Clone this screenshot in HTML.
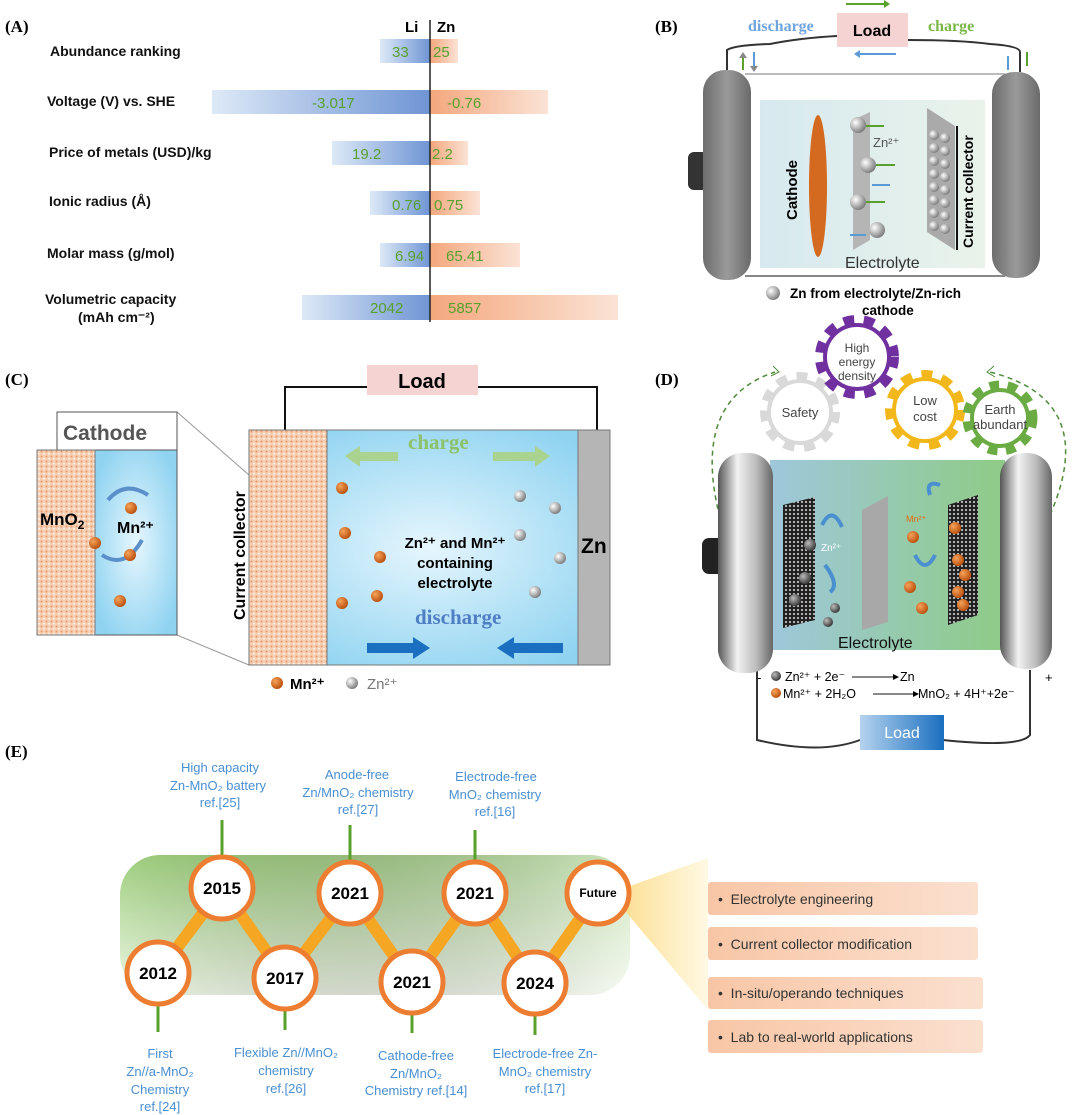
<!DOCTYPE html>
<html><head><meta charset="utf-8"><style>
html,body{margin:0;padding:0;background:#fff;}
svg{display:block;font-family:"Liberation Sans",sans-serif;}
</style></head><body>
<svg width="1080" height="1115" viewBox="0 0 1080 1115" xmlns="http://www.w3.org/2000/svg">
<defs>
<linearGradient id="li" x1="0" x2="1"><stop offset="0" stop-color="#dde9f7"/><stop offset="1" stop-color="#6f95d4"/></linearGradient>
<linearGradient id="zn" x1="0" x2="1"><stop offset="0" stop-color="#f4a77c"/><stop offset="1" stop-color="#fbe3d6"/></linearGradient>
<linearGradient id="cap" x1="0" x2="1"><stop offset="0" stop-color="#6d6d6d"/><stop offset="0.5" stop-color="#9a9a9a"/><stop offset="1" stop-color="#6a6a6a"/></linearGradient>
<linearGradient id="capD" x1="0" x2="1"><stop offset="0" stop-color="#555"/><stop offset="0.35" stop-color="#f2f2f2"/><stop offset="0.7" stop-color="#bbb"/><stop offset="1" stop-color="#666"/></linearGradient>
<linearGradient id="elB" x1="0" x2="1"><stop offset="0" stop-color="#d7e9ef"/><stop offset="1" stop-color="#e9f3ea"/></linearGradient>
<linearGradient id="elD" x1="0" x2="1"><stop offset="0" stop-color="#9ec8dc"/><stop offset="1" stop-color="#8fcb86"/></linearGradient>
<radialGradient id="elC" cx="0.5" cy="0.5" r="0.6"><stop offset="0" stop-color="#e6f6fd"/><stop offset="1" stop-color="#8fd3f1"/></radialGradient>
<linearGradient id="loadD" x1="0" x2="1"><stop offset="0" stop-color="#b5d3ee"/><stop offset="1" stop-color="#1a6fc0"/></linearGradient>
<radialGradient id="sph" cx="0.35" cy="0.35" r="0.7"><stop offset="0" stop-color="#fff"/><stop offset="1" stop-color="#777"/></radialGradient>
<radialGradient id="mn" cx="0.35" cy="0.35" r="0.7"><stop offset="0" stop-color="#f6a35a"/><stop offset="1" stop-color="#b84d0c"/></radialGradient>
<radialGradient id="dk" cx="0.35" cy="0.35" r="0.7"><stop offset="0" stop-color="#bbb"/><stop offset="1" stop-color="#333"/></radialGradient>
<pattern id="dots" width="5" height="5" patternUnits="userSpaceOnUse"><rect width="5" height="5" fill="#f6cfb3"/><circle cx="1.5" cy="1.5" r="1" fill="#e79a6c"/><circle cx="4" cy="3.8" r="0.8" fill="#fff"/></pattern>
<pattern id="mesh" width="4" height="4" patternUnits="userSpaceOnUse"><rect width="4" height="4" fill="#222"/><circle cx="2" cy="2" r="1" fill="#ddd"/></pattern>
<linearGradient id="grE" x1="0" x2="0" y1="0" y2="1"><stop offset="0" stop-color="#9fcf7f"/><stop offset="1" stop-color="#eef6e6"/></linearGradient>
<linearGradient id="grE2" x1="0" x2="1"><stop offset="0" stop-color="#000" stop-opacity="0"/><stop offset="1" stop-color="#fff" stop-opacity="0.5"/></linearGradient>
<linearGradient id="beam" x1="0" x2="1"><stop offset="0" stop-color="#fbd36a"/><stop offset="1" stop-color="#fff7dd"/></linearGradient>
<linearGradient id="box" x1="0" x2="1"><stop offset="0" stop-color="#f8c6a6"/><stop offset="1" stop-color="#fbe0cf"/></linearGradient>
</defs>

<!-- Panel A -->
<text x="5" y="32" font-family="Liberation Serif" font-weight="bold" font-size="17">(A)</text>
<g font-size="14" font-weight="bold" fill="#111">
<text x="50" y="56">Abundance ranking</text>
<text x="47" y="106">Voltage (V) vs. SHE</text>
<text x="49" y="157">Price of metals (USD)/kg</text>
<text x="49" y="206">Ionic radius (Å)</text>
<text x="47" y="258">Molar mass (g/mol)</text>
<text x="45" y="304">Volumetric capacity</text>
<text x="78" y="322">(mAh cm⁻²)</text>
</g>
<text x="405" y="32" font-size="15" font-weight="bold">Li</text>
<text x="437" y="32" font-size="15" font-weight="bold">Zn</text>
<rect x="380" y="39" width="50" height="24" fill="url(#li)"/><rect x="430" y="39" width="28" height="24" fill="url(#zn)"/>
<rect x="212" y="90" width="218" height="24" fill="url(#li)"/><rect x="430" y="90" width="118" height="24" fill="url(#zn)"/>
<rect x="332" y="141" width="98" height="24" fill="url(#li)"/><rect x="430" y="141" width="38" height="24" fill="url(#zn)"/>
<rect x="370" y="191" width="60" height="24" fill="url(#li)"/><rect x="430" y="191" width="50" height="24" fill="url(#zn)"/>
<rect x="380" y="243" width="50" height="24" fill="url(#li)"/><rect x="430" y="243" width="90" height="24" fill="url(#zn)"/>
<rect x="302" y="295" width="128" height="25" fill="url(#li)"/><rect x="430" y="295" width="188" height="25" fill="url(#zn)"/>
<line x1="430" y1="20" x2="430" y2="322" stroke="#222" stroke-width="1.5"/>
<g font-size="15" fill="#5aa02c">
<text x="392" y="57">33</text><text x="433" y="57">25</text>
<text x="312" y="108">-3.017</text><text x="447" y="108">-0.76</text>
<text x="352" y="159">19.2</text><text x="432" y="159">2.2</text>
<text x="392" y="210">0.76</text><text x="434" y="210">0.75</text>
<text x="395" y="261">6.94</text><text x="446" y="261">65.41</text>
<text x="370" y="313">2042</text><text x="448" y="313">5857</text>
</g>

<!-- Panel B -->
<text x="655" y="32" font-family="Liberation Serif" font-weight="bold" font-size="17">(B)</text>
<path d="M727 72 V50 Q735 45 770 44 Q800 38 837 36 M908 40 Q960 40 990 44 Q1020 46 1020 52 V72" fill="none" stroke="#333" stroke-width="2"/>
<rect x="837" y="13" width="71" height="34" fill="#f5d3d3"/>
<text x="872" y="36" text-anchor="middle" font-size="16" font-weight="bold">Load</text>
<text x="748" y="31" font-family="Liberation Serif" font-weight="bold" font-size="16" fill="#6fa4de">discharge</text>
<text x="928" y="31" font-family="Liberation Serif" font-weight="bold" font-size="16" fill="#7ab648">charge</text>
<line x1="846" y1="4" x2="884" y2="4" stroke="#5aa02c" stroke-width="2"/><path d="M884 0 L890 4 L884 8Z" fill="#5aa02c"/>
<line x1="860" y1="54" x2="896" y2="54" stroke="#5b9bd5" stroke-width="2"/><path d="M860 50 L854 54 L860 58Z" fill="#5b9bd5"/>
<g stroke-width="2"><line x1="743" y1="70" x2="743" y2="56" stroke="#5aa02c"/><line x1="754" y1="52" x2="754" y2="68" stroke="#5b9bd5"/><line x1="1008" y1="70" x2="1008" y2="56" stroke="#5b9bd5"/><line x1="1027" y1="52" x2="1027" y2="66" stroke="#5aa02c"/></g>
<path d="M739 58 L743 52 L747 58Z M750 66 L754 72 L758 66Z" fill="#888"/>
<line x1="745" y1="74" x2="1005" y2="74" stroke="#bbb" stroke-width="2"/>
<line x1="745" y1="276" x2="1005" y2="276" stroke="#888" stroke-width="2"/>
<rect x="760" y="100" width="225" height="168" fill="url(#elB)"/>
<rect x="688" y="152" width="20" height="38" rx="6" fill="#333"/>
<rect x="703" y="70" width="48" height="210" rx="22" fill="url(#cap)"/>
<rect x="992" y="72" width="48" height="206" rx="22" fill="url(#cap)"/>
<ellipse cx="818" cy="186" rx="9" ry="71" fill="#d46a1f"/>
<text transform="translate(797,220) rotate(-90)" font-size="15" font-weight="bold">Cathode</text>
<path d="M853 120 L870 112 V240 L853 250Z" fill="#b5b5b5"/>
<circle cx="858" cy="125" r="8" fill="url(#sph)"/><circle cx="868" cy="165" r="8" fill="url(#sph)"/><circle cx="858" cy="202" r="8" fill="url(#sph)"/><circle cx="877" cy="230" r="8" fill="url(#sph)"/>
<text x="873" y="147" font-size="13" fill="#555">Zn²⁺</text>
<g stroke="#5aa02c" stroke-width="2"><line x1="866" y1="126" x2="884" y2="126"/><line x1="876" y1="165" x2="895" y2="165"/><line x1="866" y1="202" x2="885" y2="202"/></g>
<g stroke="#5b9bd5" stroke-width="2"><line x1="872" y1="185" x2="890" y2="185"/><line x1="850" y1="235" x2="866" y2="235"/></g>
<path d="M927 108 L955 126 V250 L927 232Z" fill="#aaa"/>
<g fill="url(#sph)">
<circle cx="934" cy="135" r="5"/><circle cx="945" cy="138" r="5"/><circle cx="934" cy="148" r="5"/><circle cx="945" cy="151" r="5"/><circle cx="934" cy="161" r="5"/><circle cx="945" cy="164" r="5"/><circle cx="934" cy="174" r="5"/><circle cx="945" cy="177" r="5"/><circle cx="934" cy="187" r="5"/><circle cx="945" cy="190" r="5"/><circle cx="934" cy="200" r="5"/><circle cx="945" cy="203" r="5"/><circle cx="934" cy="213" r="5"/><circle cx="945" cy="216" r="5"/><circle cx="934" cy="226" r="5"/><circle cx="945" cy="229" r="5"/></g>
<line x1="957" y1="126" x2="957" y2="250" stroke="#111" stroke-width="2"/>
<text transform="translate(973,248) rotate(-90)" font-size="14" font-weight="bold">Current collector</text>
<text x="845" y="268" font-size="16" fill="#333">Electrolyte</text>
<circle cx="773" cy="293" r="7" fill="url(#sph)"/>
<text x="790" y="298" font-size="13.5" font-weight="bold">Zn from electrolyte/Zn-rich</text>
<text x="862" y="315" font-size="13.5" font-weight="bold">cathode</text>

<!-- Panel C -->
<text x="5" y="385" font-family="Liberation Serif" font-weight="bold" font-size="17">(C)</text>
<path d="M285 430 V387 H367 M478 387 H597 V430" fill="none" stroke="#111" stroke-width="2"/>
<rect x="367" y="365" width="111" height="30" fill="#f5d3d3"/>
<text x="422" y="388" text-anchor="middle" font-size="20" font-weight="bold">Load</text>
<line x1="177" y1="412" x2="249" y2="475" stroke="#999"/><line x1="177" y1="635" x2="249" y2="665" stroke="#999"/>
<rect x="57" y="412" width="120" height="38" fill="#fff" stroke="#555"/>
<text x="63" y="440" font-size="21" font-weight="bold" fill="#555">Cathode</text>
<rect x="95" y="450" width="82" height="185" fill="url(#elC)" stroke="#555"/>
<rect x="37" y="450" width="58" height="185" fill="url(#dots)" stroke="#777"/>
<text x="40" y="525" font-size="17" font-weight="bold">MnO<tspan font-size="12" dy="4">2</tspan></text>
<text x="117" y="533" font-size="16" font-weight="bold">Mn²⁺</text>
<path d="M108 500 Q125 480 148 495" fill="none" stroke="#5b8fc9" stroke-width="4"/><path d="M142 540 Q125 570 102 555" fill="none" stroke="#5b8fc9" stroke-width="4"/>
<g fill="url(#mn)"><circle cx="131" cy="508" r="6"/><circle cx="95" cy="543" r="6"/><circle cx="130" cy="555" r="6"/><circle cx="120" cy="601" r="6"/></g>
<rect x="249" y="430" width="361" height="235" fill="url(#elC)" stroke="#777"/>
<rect x="249" y="430" width="78" height="235" fill="url(#dots)" stroke="#777"/>
<rect x="578" y="430" width="32" height="235" fill="#b5b5b5" stroke="#777"/>
<text x="581" y="553" font-size="21" font-weight="bold">Zn</text>
<text transform="translate(245,620) rotate(-90)" font-size="16" font-weight="bold">Current collector</text>
<text x="408" y="449" font-family="Liberation Serif" font-weight="bold" font-size="21" fill="#8cc36a">charge</text>
<path d="M345 456 L360 446 V452 H398 V461 H360 V467Z" fill="#a9d38e"/>
<path d="M550 456 L535 446 V452 H493 V461 H535 V467Z" fill="#a9d38e"/>
<text x="415" y="624" font-family="Liberation Serif" font-weight="bold" font-size="21" fill="#4f7ec4">discharge</text>
<path d="M430 648 L413 637 V643 H367 V653 H413 V659Z" fill="#1a6fc0"/>
<path d="M497 648 L514 637 V643 H563 V653 H514 V659Z" fill="#1a6fc0"/>
<text x="455" y="548" text-anchor="middle" font-size="15" font-weight="bold">Zn²⁺ and Mn²⁺</text>
<text x="455" y="568" text-anchor="middle" font-size="15" font-weight="bold">containing</text>
<text x="455" y="588" text-anchor="middle" font-size="15" font-weight="bold">electrolyte</text>
<g fill="url(#mn)"><circle cx="342" cy="488" r="6"/><circle cx="345" cy="533" r="6"/><circle cx="380" cy="557" r="6"/><circle cx="342" cy="603" r="6"/><circle cx="377" cy="596" r="6"/></g>
<g fill="url(#sph)"><circle cx="520" cy="496" r="6"/><circle cx="555" cy="508" r="6"/><circle cx="520" cy="535" r="6"/><circle cx="560" cy="558" r="6"/><circle cx="535" cy="592" r="6"/></g>
<circle cx="277" cy="683" r="6" fill="url(#mn)"/><text x="290" y="689" font-size="15" font-weight="bold">Mn²⁺</text>
<circle cx="352" cy="683" r="6" fill="url(#sph)"/><text x="367" y="689" font-size="15" fill="#777">Zn²⁺</text>

<!-- Panel D -->
<text x="655" y="385" font-family="Liberation Serif" font-weight="bold" font-size="17">(D)</text>
<path d="M720 518 Q690 400 775 372" fill="none" stroke="#4f8a3a" stroke-width="1.5" stroke-dasharray="5,4"/>
<path d="M773 366 L779 372 L771 376" fill="none" stroke="#4f8a3a"/>
<path d="M1050 515 Q1100 400 990 372" fill="none" stroke="#4f8a3a" stroke-width="1.5" stroke-dasharray="5,4"/>
<path d="M994 366 L987 372 L995 377" fill="none" stroke="#4f8a3a"/>
<g>
<circle cx="800" cy="412" r="33" fill="none" stroke="#d9d9d9" stroke-width="14" stroke-dasharray="10,9"/>
<circle cx="800" cy="412" r="31" fill="#fff" stroke="#d9d9d9" stroke-width="4"/>
<text x="800" y="417" text-anchor="middle" font-size="13" fill="#444">Safety</text>
<circle cx="857" cy="357" r="35" fill="none" stroke="#7030a0" stroke-width="14" stroke-dasharray="10,9"/>
<circle cx="857" cy="357" r="32" fill="#fff" stroke="#7030a0" stroke-width="4"/>
<text x="857" y="352" text-anchor="middle" font-size="12" fill="#444">High</text><text x="857" y="366" text-anchor="middle" font-size="12" fill="#444">energy</text><text x="857" y="380" text-anchor="middle" font-size="12" fill="#444">density</text>
<circle cx="925" cy="410" r="33" fill="none" stroke="#f2b81b" stroke-width="14" stroke-dasharray="10,9"/>
<circle cx="925" cy="410" r="31" fill="#fff" stroke="#f2b81b" stroke-width="4"/>
<text x="925" y="405" text-anchor="middle" font-size="13" fill="#444">Low</text><text x="925" y="421" text-anchor="middle" font-size="13" fill="#444">cost</text>
<circle cx="1000" cy="418" r="31" fill="none" stroke="#6aab43" stroke-width="13" stroke-dasharray="9,8"/>
<circle cx="1000" cy="418" r="28" fill="#fff" stroke="#6aab43" stroke-width="4"/>
<text x="1000" y="414" text-anchor="middle" font-size="13" fill="#444">Earth</text><text x="1000" y="429" text-anchor="middle" font-size="13" fill="#444">abundant</text>
</g>
<path d="M757 662 V740 Q820 755 860 740 M943 740 Q1020 748 1030 735 V670" fill="none" stroke="#333" stroke-width="2"/>
<rect x="770" y="460" width="235" height="190" fill="url(#elD)"/>
<rect x="702" y="538" width="22" height="36" rx="7" fill="#222"/>
<rect x="718" y="453" width="55" height="220" rx="24" fill="url(#capD)"/>
<rect x="1000" y="453" width="52" height="216" rx="24" fill="url(#capD)"/>
<path d="M783 505 L815 497 V620 L783 628Z" fill="url(#mesh)"/>
<path d="M862 510 L888 496 V622 L862 630Z" fill="#a8a8a8"/>
<path d="M948 505 L978 495 V615 L948 625Z" fill="url(#mesh)"/>
<g fill="url(#dk)"><circle cx="810" cy="545" r="6"/><circle cx="805" cy="578" r="6"/><circle cx="795" cy="600" r="6"/><circle cx="835" cy="608" r="5"/><circle cx="828" cy="622" r="5"/></g>
<g fill="url(#mn)"><circle cx="913" cy="537" r="6"/><circle cx="955" cy="528" r="6"/><circle cx="958" cy="560" r="6"/><circle cx="965" cy="575" r="6"/><circle cx="958" cy="592" r="6"/><circle cx="963" cy="605" r="6"/><circle cx="910" cy="587" r="6"/><circle cx="922" cy="608" r="6"/></g>
<text x="821" y="551" font-size="10" fill="#fff">Zn²⁺</text><text x="906" y="522" font-size="9" fill="#e06a10">Mn²⁺</text>
<g fill="none" stroke="#4a90d0" stroke-width="4"><path d="M822 525 Q832 505 842 527"/><path d="M825 565 Q840 585 830 592"/><path d="M930 495 Q925 480 940 485"/><path d="M915 555 Q925 575 935 555"/></g>
<text x="838" y="648" font-size="16" fill="#111">Electrolyte</text>
<text x="757" y="682" font-size="13">-</text><text x="1045" y="682" font-size="13">+</text>
<circle cx="776" cy="676" r="5" fill="url(#dk)"/>
<text x="785" y="681" font-size="12.5">Zn²⁺ + 2e⁻</text>
<line x1="852" y1="677" x2="893" y2="677" stroke="#111"/><path d="M893 674 L899 677 L893 680Z"/>
<text x="900" y="681" font-size="12.5">Zn</text>
<circle cx="776" cy="693" r="5" fill="url(#mn)"/>
<text x="783" y="698" font-size="12.5">Mn²⁺ + 2H₂O</text>
<line x1="873" y1="694" x2="913" y2="694" stroke="#111"/><path d="M913 691 L919 694 L913 697Z"/>
<text x="918" y="698" font-size="12.5">MnO₂ + 4H⁺+2e⁻</text>
<rect x="860" y="715" width="84" height="35" fill="url(#loadD)"/>
<text x="902" y="738" text-anchor="middle" font-size="16" fill="#fff">Load</text>

<!-- Panel E -->
<text x="5" y="757" font-family="Liberation Serif" font-weight="bold" font-size="17">(E)</text>
<rect x="120" y="855" width="510" height="140" rx="40" fill="url(#grE)"/>
<rect x="120" y="855" width="510" height="140" rx="40" fill="url(#grE2)"/>
<path d="M610 893 L708 858 V1010 Z" fill="url(#beam)" opacity="0.8"/>
<polyline points="158,973 222,888 285,978 350,893 412,982 475,893 535,983 598,893" fill="none" stroke="#f5a623" stroke-width="12" stroke-linejoin="round"/>
<g stroke="#5aa02c" stroke-width="3">
<line x1="158" y1="1000" x2="158" y2="1032"/><line x1="222" y1="820" x2="222" y2="858"/><line x1="285" y1="1008" x2="285" y2="1030"/>
<line x1="350" y1="825" x2="350" y2="862"/><line x1="412" y1="1012" x2="412" y2="1033"/><line x1="475" y1="830" x2="475" y2="862"/><line x1="535" y1="1013" x2="535" y2="1035"/></g>
<g fill="#fff" stroke="#ec7d31" stroke-width="5">
<circle cx="158" cy="973" r="31"/><circle cx="222" cy="888" r="31"/><circle cx="285" cy="978" r="31"/><circle cx="350" cy="893" r="31"/><circle cx="412" cy="982" r="31"/><circle cx="475" cy="893" r="31"/><circle cx="535" cy="983" r="31"/><circle cx="598" cy="893" r="31"/></g>
<g font-size="17" font-weight="bold" text-anchor="middle">
<text x="158" y="979">2012</text><text x="222" y="894">2015</text><text x="285" y="984">2017</text><text x="350" y="899">2021</text><text x="412" y="988">2021</text><text x="475" y="899">2021</text><text x="535" y="989">2024</text><text x="598" y="897" font-size="12">Future</text></g>
<g font-size="13" fill="#4a8fd1" text-anchor="middle">
<text x="220" y="772">High capacity</text><text x="218" y="790">Zn-MnO₂ battery</text><text x="220" y="807">ref.[25]</text>
<text x="357" y="779">Anode-free</text><text x="358" y="797">Zn/MnO₂ chemistry</text><text x="358" y="814">ref.[27]</text>
<text x="496" y="781">Electrode-free</text><text x="495" y="799">MnO₂ chemistry</text><text x="495" y="816">ref.[16]</text>
<text x="160" y="1058">First</text><text x="160" y="1076">Zn//a-MnO₂</text><text x="160" y="1094">Chemistry</text><text x="160" y="1111">ref.[24]</text>
<text x="286" y="1057">Flexible Zn//MnO₂</text><text x="286" y="1075">chemistry</text><text x="286" y="1093">ref.[26]</text>
<text x="416" y="1060">Cathode-free</text><text x="416" y="1078">Zn/MnO₂</text><text x="416" y="1095">Chemistry ref.[14]</text>
<text x="545" y="1058">Electrode-free Zn-</text><text x="545" y="1076">MnO₂ chemistry</text><text x="545" y="1093">ref.[17]</text>
</g>
<g fill="url(#box)">
<rect x="708" y="882" width="270" height="33" rx="3"/><rect x="708" y="927" width="270" height="33" rx="3"/><rect x="708" y="977" width="275" height="32" rx="3"/><rect x="708" y="1020" width="275" height="33" rx="3"/></g>
<g font-size="14" fill="#333">
<text x="718" y="904">•&#160;&#160;Electrolyte engineering</text>
<text x="718" y="949">•&#160;&#160;Current collector modification</text>
<text x="718" y="998">•&#160;&#160;In-situ/operando techniques</text>
<text x="718" y="1042">•&#160;&#160;Lab to real-world applications</text>
</g>
</svg>
</body></html>
